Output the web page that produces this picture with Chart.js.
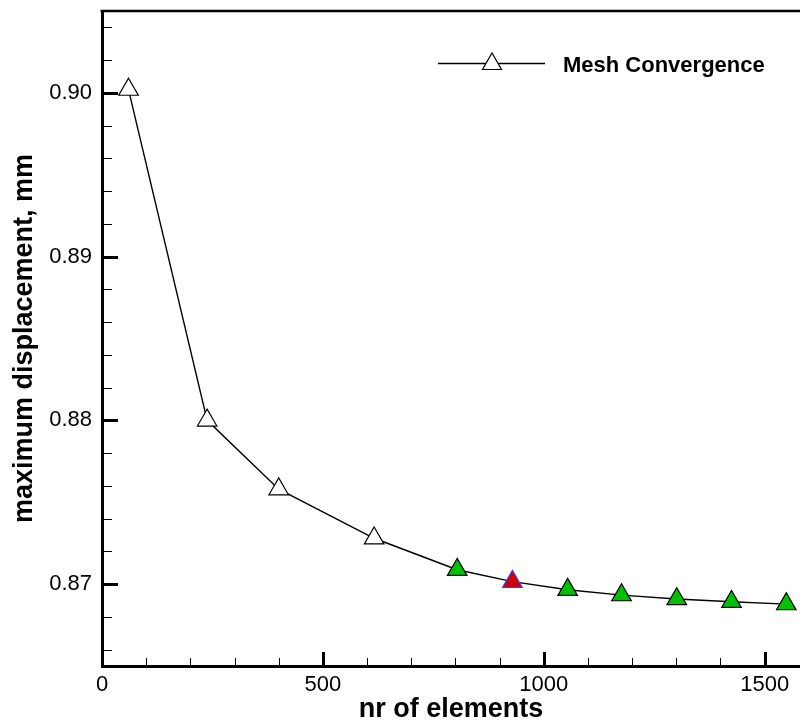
<!DOCTYPE html>
<html><head><meta charset="utf-8">
<script src="https://cdn.jsdelivr.net/npm/chart.js@4/dist/chart.umd.min.js"></script>
<style>html,body{margin:0;padding:0;background:#fff}</style>
</head><body>
<canvas id="c" width="800" height="720"></canvas>
<script>
// ---- data ----
const elements     = [60, 238, 400, 616, 804, 929, 1054, 1176, 1301, 1425, 1549];
const displacement = [0.9002, 0.8800, 0.8758, 0.8728, 0.87088, 0.87015, 0.86966, 0.86933, 0.86909, 0.86892, 0.86878];
const seriesLabel  = 'Mesh Convergence';
const xTickValues  = [0, 500, 1000, 1500];
const yTickValues  = [0.87, 0.88, 0.89, 0.90];
const xTitle = 'nr of elements';
const yTitle = 'maximum displacement, mm';

const FONT = 'Arial, "Liberation Sans", Helvetica, sans-serif';
const GREEN = '#00c000', RED = '#d00000', BLUE = '#3a3aff';

function fillFor(i){ return i < 4 ? '#ffffff' : (i === 5 ? RED : GREEN); }
function strokeFor(i){ return i === 5 ? BLUE : '#000000'; }

function triangle(ctx, x, y, r){
  ctx.beginPath();
  let rad = 0;
  ctx.moveTo(x + Math.sin(rad)*r, y - Math.cos(rad)*r);
  rad += 2*Math.PI/3;
  ctx.lineTo(x + Math.sin(rad)*r, y - Math.cos(rad)*r);
  rad += 2*Math.PI/3;
  ctx.lineTo(x + Math.sin(rad)*r, y - Math.cos(rad)*r);
  ctx.closePath();
}

const decor = {
  id: 'decor',
  afterDraw(chart){
    const {ctx, chartArea: a, scales: {x, y}} = chart;
    ctx.save();
    ctx.strokeStyle = '#000';
    ctx.lineCap = 'butt';
    // top frame line
    ctx.lineWidth = 2.5;
    ctx.beginPath(); ctx.moveTo(a.left - 1.5, a.top); ctx.lineTo(a.right, a.top); ctx.stroke();
    // x ticks (inward)
    for (let k = 1; k * 100 <= x.max; k++) {
      const v = k * 100, px = Math.round(x.getPixelForValue(v)) + 0.5;
      const major = k % 5 === 0;
      ctx.lineWidth = major ? 3 : 1;
      ctx.beginPath(); ctx.moveTo(px, a.bottom); ctx.lineTo(px, a.bottom - (major ? 14 : 8)); ctx.stroke();
    }
    // y ticks (inward)
    for (let k = Math.ceil(y.min / 0.002 - 1e-6); k * 0.002 <= y.max + 1e-9; k++) {
      const v = k * 0.002, py = Math.round(y.getPixelForValue(v)) + 0.5;
      const major = k % 5 === 0;
      ctx.lineWidth = major ? 3 : 1;
      ctx.beginPath(); ctx.moveTo(a.left, py); ctx.lineTo(a.left + (major ? 16 : 10), py); ctx.stroke();
    }
    // legend
    ctx.lineWidth = 1.4;
    ctx.beginPath(); ctx.moveTo(438, 63.5); ctx.lineTo(545, 63.5); ctx.stroke();
    triangle(ctx, 492, 64, 11);
    ctx.fillStyle = '#fff'; ctx.fill(); ctx.lineWidth = 1.2; ctx.stroke();
    ctx.fillStyle = '#000';
    ctx.font = 'bold 22px ' + FONT;
    ctx.textAlign = 'left'; ctx.textBaseline = 'alphabetic';
    ctx.fillText(chart.data.datasets[0].label, 563, 71.5);
    ctx.restore();
  }
};

new Chart(document.getElementById('c'), {
  type: 'line',
  data: {
    datasets: [{
      label: seriesLabel,
      data: elements.map((v, i) => ({x: v, y: displacement[i]})),
      borderColor: '#000',
      borderWidth: 1.4,
      tension: 0,
      fill: false,
      pointStyle: 'triangle',
      pointRadius: 11.3,
      pointBorderWidth: 1.2,
      pointBackgroundColor: c => fillFor(c.dataIndex),
      pointBorderColor: c => strokeFor(c.dataIndex),
      clip: false
    }]
  },
  options: {
    responsive: false,
    animation: false,
    devicePixelRatio: 1,
    layout: {autoPadding: false, padding: {top: 11, right: 0, left: 0, bottom: 0}},
    plugins: {legend: {display: false}, tooltip: {enabled: false}},
    scales: {
      x: {
        type: 'linear', min: 0, max: 1580,
        afterBuildTicks: s => { s.ticks = xTickValues.map(v => ({value: v})); },
        afterFit: s => { s.height = 54; s.paddingLeft = 0; s.paddingRight = 0; },
        grid: {display: true, drawOnChartArea: false, drawTicks: false},
        border: {display: true, width: 3, color: '#000'},
        ticks: {color: '#000', font: {family: FONT, size: 22}, padding: 6, maxRotation: 0, autoSkip: false,
                callback: v => String(v)},
        title: {display: true, text: xTitle, color: '#000',
                font: {family: FONT, size: 27, weight: 'bold', lineHeight: 1}, padding: {top: 0, bottom: -3}}
      },
      y: {
        type: 'linear', min: 0.865, max: 0.905,
        afterBuildTicks: s => { s.ticks = yTickValues.map(v => ({value: v})); },
        afterFit: s => { s.width = 102; s.paddingTop = 0; s.paddingBottom = 0; },
        grid: {display: true, drawOnChartArea: false, drawTicks: false},
        border: {display: true, width: 3, color: '#000'},
        ticks: {color: '#000', font: {family: FONT, size: 22}, padding: 10, autoSkip: false,
                callback: v => Number(v).toFixed(2)},
        title: {display: true, text: yTitle, color: '#000',
                font: {family: FONT, size: 27, weight: 'bold', lineHeight: 1.2}, padding: {top: 8, bottom: 0}}
      }
    }
  },
  plugins: [decor]
});
</script>
</body></html>
